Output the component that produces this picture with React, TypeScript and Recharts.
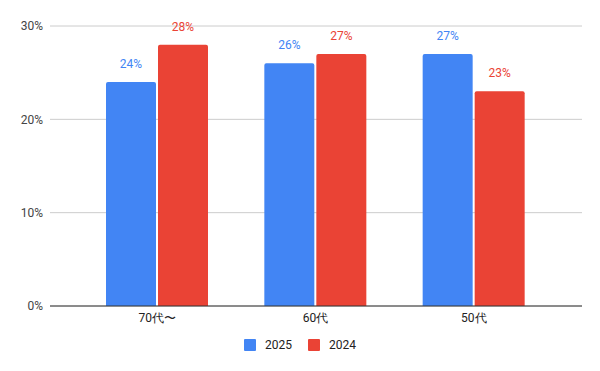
import React from 'react';
import { BarChart, Bar, XAxis, YAxis, CartesianGrid, LabelList } from 'recharts';

const categories = ['70代〜', '60代', '50代'];
const values2025 = [24, 26, 27];
const values2024 = [28, 27, 23];
const yTicks = [0, 10, 20, 30];
const seriesNames = ['2025', '2024'];
const colors = ['#4285F4', '#EA4335'];

const data = categories.map((c, i) => ({ name: c, s2025: values2025[i], s2024: values2024[i] }));

const FONT = 'Roboto, Arial, sans-serif';

export default function App() {
  return (
    <div style={{ position: 'absolute', left: 0, top: 0, width: 600, height: 371, background: '#fff', fontFamily: FONT }}>
      <BarChart
        width={600}
        height={371}
        data={data}
        margin={{ top: 26, right: 18, bottom: 35, left: 0 }}
        barGap={2}
        barSize={50}
      >
        <CartesianGrid vertical={false} stroke="#cccccc" />
        <XAxis
          dataKey="name"
          height={30}
          tickLine={false}
          tickSize={0}
          tickMargin={7}
          padding={{ left: 28, right: 29 }}
          axisLine={{ stroke: '#333333' }}
          tick={{ fill: '#222222', fontSize: 12, fontFamily: FONT }}
        />
        <YAxis
          width={50}
          domain={[0, 30]}
          ticks={yTicks}
          tickFormatter={(v: number) => `${v}%`}
          axisLine={false}
          tickLine={false}
          tickSize={0}
          tickMargin={7}
          tick={{ fill: '#444444', fontSize: 12, fontFamily: FONT }}
        />
        <Bar dataKey="s2025" name={seriesNames[0]} fill={colors[0]} radius={[2, 2, 0, 0]} isAnimationActive={false}>
          <LabelList
            dataKey="s2025"
            position="top"
            offset={14}
            formatter={(v: number) => `${v}%`}
            style={{ fill: colors[0], fontSize: 12, fontFamily: FONT }}
          />
        </Bar>
        <Bar dataKey="s2024" name={seriesNames[1]} fill={colors[1]} radius={[2, 2, 0, 0]} isAnimationActive={false}>
          <LabelList
            dataKey="s2024"
            position="top"
            offset={14}
            formatter={(v: number) => `${v}%`}
            style={{ fill: colors[1], fontSize: 12, fontFamily: FONT }}
          />
        </Bar>
      </BarChart>
      <div
        style={{
          position: 'absolute',
          left: 0,
          top: 339,
          width: 600,
          display: 'flex',
          justifyContent: 'center',
          alignItems: 'center',
          height: 12,
          fontSize: 12,
          color: '#222222',
          fontFamily: FONT,
        }}
      >
        {seriesNames.map((n, i) => (
          <div key={n} style={{ display: 'flex', alignItems: 'center', marginLeft: i === 0 ? 0 : 16 }}>
            <span style={{ display: 'inline-block', width: 12, height: 12, background: colors[i], borderRadius: 1 }} />
            <span style={{ marginLeft: 9, lineHeight: '12px' }}>{n}</span>
          </div>
        ))}
      </div>
    </div>
  );
}
